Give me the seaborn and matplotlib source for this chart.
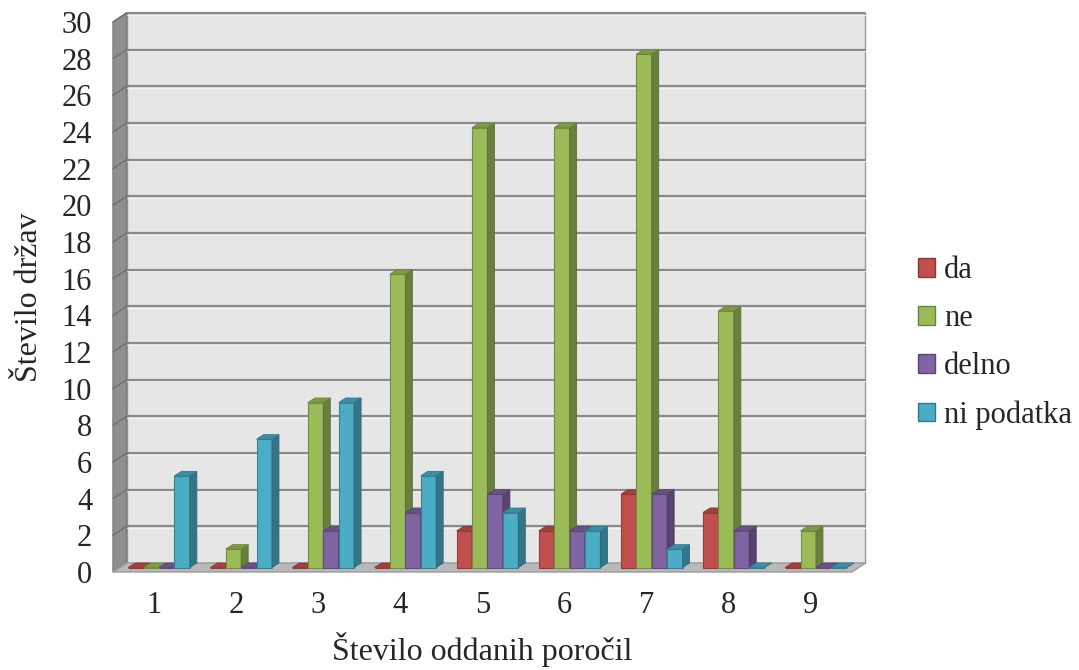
import numpy as np
import pandas as pd
import matplotlib
matplotlib.use("Agg")
import matplotlib.pyplot as plt
import matplotlib.colors as mcolors
from matplotlib.patches import Polygon, Patch
from matplotlib.transforms import IdentityTransform, ScaledTranslation
import seaborn as sns

# Number of submitted reports vs. number of states, by answer
categories = ["1", "2", "3", "4", "5", "6", "7", "8", "9"]
series_names = ["da", "ne", "delno", "ni podatka"]
da = [0, 0, 0, 0, 2, 2, 4, 3, 0]
ne = [0, 1, 9, 16, 24, 24, 28, 14, 2]
delno = [0, 0, 2, 3, 4, 2, 4, 2, 0]
ni_podatka = [5, 7, 9, 5, 3, 2, 1, 0, 0]
series_values = [da, ne, delno, ni_podatka]
colors = ["#C0504D", "#9BBB59", "#8064A2", "#4BACC6"]
y_ticks = list(range(0, 31, 2))

rows = []
for name, vals in zip(series_names, series_values):
    for cat, v in zip(categories, vals):
        rows.append({"poročila": cat, "države": v, "odgovor": name})
df = pd.DataFrame(rows)

sns.set_theme(style="white")
plt.rcParams["font.family"] = ["Liberation Serif", "DejaVu Serif"]

DPI = 100
fig = plt.figure(figsize=(10.79, 6.70), dpi=DPI)
W, H = 1079, 670
# axes = front plane of the 3-D box
ax = fig.add_axes([113 / W, 1 - 572 / H, 739 / W, 550 / H])
ax.patch.set_alpha(0)

def darker(c, f):
    r, g, b = mcolors.to_rgb(c)
    return (r * f, g * f, b * f)

sns.barplot(data=df, x="poročila", y="države", hue="odgovor",
            order=categories, hue_order=series_names,
            palette=colors, saturation=1, width=0.75, legend=False, ax=ax)

ax.set_xlim(-0.5, len(categories) - 0.5)
ax.set_ylim(0, 30)
ax.set_yticks(y_ticks)
ax.set_yticklabels([str(t) for t in y_ticks], fontsize=22)
ax.tick_params(axis="x", labelsize=22, length=0, pad=14)
ax.tick_params(axis="y", length=0, pad=15)
for s in ax.spines.values():
    s.set_visible(False)
ax.set_xlabel("Število oddanih poročil", fontsize=23, labelpad=8)
ax.set_ylabel("Število držav", fontsize=23, labelpad=13)

fig.canvas.draw()
ident = IdentityTransform()

# depth of the box (pixels) and of the bars
WALL_DX, WALL_DY = 13.5, 9.0
FRONT_DX, FRONT_DY = 5.0, 4.5
BAR_DX, BAR_DY = 7.0, 4.5

def px(x, y, dx=0.0, dy=0.0):
    p = ax.transData.transform((x, y))
    return (p[0] + dx, p[1] + dy)

x0, x1 = -0.5, len(categories) - 0.5

# back wall
wall = Polygon([px(x0, 0, WALL_DX, WALL_DY), px(x1, 0, WALL_DX, WALL_DY),
                px(x1, 30, WALL_DX, WALL_DY), px(x0, 30, WALL_DX, WALL_DY)],
               closed=True, transform=ident, facecolor="#e6e6e6",
               edgecolor="#9a9a9a", linewidth=1.0, zorder=0.1, clip_on=False)
ax.add_patch(wall)

# left side wall
side = Polygon([px(x0, 0), px(x0, 0, WALL_DX, WALL_DY),
                px(x0, 30, WALL_DX, WALL_DY), px(x0, 30)],
               closed=True, transform=ident, facecolor="#8f8f8f",
               edgecolor="#7a7a7a", linewidth=1.0, zorder=0.2, clip_on=False)
ax.add_patch(side)

# floor
floor = Polygon([px(x0, 0), px(x1, 0), px(x1, 0, WALL_DX, WALL_DY),
                 px(x0, 0, WALL_DX, WALL_DY)],
                closed=True, transform=ident, facecolor="#b9b9b9",
                edgecolor="#9a9a9a", linewidth=1.0, zorder=0.3, clip_on=False)
ax.add_patch(floor)

# gridlines on the back wall and across the side wall
for t in y_ticks[1:]:
    a = px(x0, t, WALL_DX, WALL_DY)
    b = px(x1, t, WALL_DX, WALL_DY)
    ax.add_line(plt.Line2D([a[0], b[0]], [a[1] - 1.5, b[1] - 1.5], transform=ident,
                           color="#f4f4f4", linewidth=0.9, zorder=0.15, clip_on=False))
    ax.add_line(plt.Line2D([a[0], b[0]], [a[1], b[1]], transform=ident,
                           color="#8a8a8a", linewidth=1.6, zorder=0.16, clip_on=False))
    c = px(x0, t)
    ax.add_line(plt.Line2D([c[0], a[0]], [c[1], a[1]], transform=ident,
                           color="#6f6f6f", linewidth=1.0, zorder=0.25, clip_on=False))

# 3-D bars built from the seaborn bar geometry
bars = []
for cont, col in zip(ax.containers, colors):
    for rect in cont:
        bars.append((rect.get_x(), rect, col))
bars.sort(key=lambda b: b[0])

z = 1.0
for _, rect, col in bars:
    bx, bw, bh = rect.get_x(), rect.get_width(), rect.get_height()
    edge = darker(col, 0.75)
    rect.set_transform(ax.transData + ScaledTranslation(FRONT_DX / DPI, FRONT_DY / DPI,
                                                        fig.dpi_scale_trans))
    rect.set_edgecolor(edge)
    rect.set_linewidth(0.8)
    rect.set_zorder(z)
    fdx, fdy = FRONT_DX, FRONT_DY
    bl = px(bx, 0, fdx, fdy)
    br = px(bx + bw, 0, fdx, fdy)
    tl = px(bx, bh, fdx, fdy)
    tr = px(bx + bw, bh, fdx, fdy)
    side_face = Polygon([br, tr, (tr[0] + BAR_DX, tr[1] + BAR_DY),
                         (br[0] + BAR_DX, br[1] + BAR_DY)],
                        closed=True, transform=ident, facecolor=darker(col, 0.68),
                        edgecolor=darker(col, 0.6), linewidth=0.6,
                        zorder=z + 0.1, clip_on=False)
    top_face = Polygon([tl, tr, (tr[0] + BAR_DX, tr[1] + BAR_DY),
                        (tl[0] + BAR_DX, tl[1] + BAR_DY)],
                       closed=True, transform=ident, facecolor=darker(col, 0.82),
                       edgecolor=darker(col, 0.7), linewidth=0.6,
                       zorder=z + 0.2, clip_on=False)
    ax.add_patch(side_face)
    ax.add_patch(top_face)
    z += 1.0

# legend
handles = [Patch(facecolor=c, edgecolor=darker(c, 0.7), linewidth=1.0) for c in colors]
fig.legend(handles, series_names, loc="center left",
           bbox_to_anchor=(906 / W, 1 - 343 / H), frameon=False, fontsize=22,
           handlelength=0.55, handleheight=0.55, handletextpad=0.3,
           labelspacing=0.62, borderaxespad=0)

fig.savefig("out.png", dpi=DPI)
